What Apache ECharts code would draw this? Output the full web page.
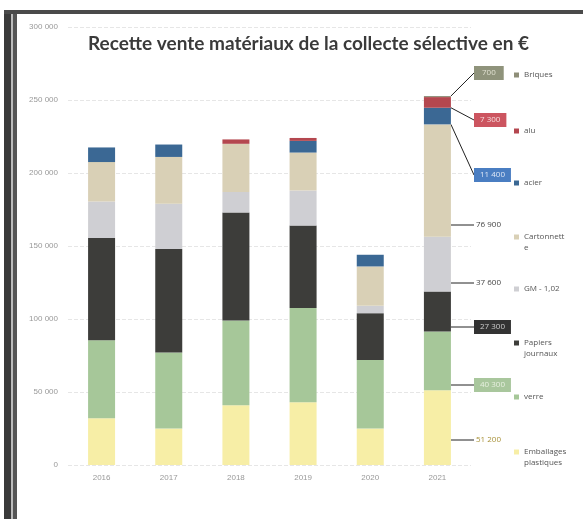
<!DOCTYPE html>
<html><head><meta charset="utf-8">
<script src="https://cdn.jsdelivr.net/npm/echarts@6/dist/echarts.min.js"></script>
<style>html,body{margin:0;padding:0;background:#fff}#c{width:583px;height:519px}</style>
</head><body><div id="c"></div>
<script>
var years = ['2016','2017','2018','2019','2020','2021'];
var emballages = [32000, 25000, 41000, 43000, 25000, 51200];
var verre = [53500, 52000, 58000, 64500, 47000, 40300];
var papiers = [70000, 71000, 74000, 56500, 32000, 27300];
var gm = [25000, 31000, 14000, 24000, 5000, 37600];
var cartonnette = [27000, 32000, 33000, 26000, 27000, 76900];
var acier = [10000, 8500, 0, 8000, 8000, 11400];
var alu = [0, 0, 3000, 2000, 0, 7300];
var briques = [0, 0, 0, 0, 0, 700];
var yTicks = ['0','50 000','100 000','150 000','200 000','250 000','300 000'];

var seriesDefs = [
  {name:'Emballages plastiques', l1:'Emballages', l2:'plastiques', data:emballages, color:'#f7eea6', lbl:{y:440, bg:'transparent', fg:'#a8923a', pad:[2,2]}, ly:452},
  {name:'verre', l1:'verre', data:verre, color:'#a6c799', lbl:{y:385, bg:'#a9c79d', fg:'#e8f0e0', pad:[3,6]}, ly:397},
  {name:'Papiers journaux', l1:'Papiers', l2:'journaux', data:papiers, color:'#3d3d3a', lbl:{y:327, bg:'#333333', fg:'#cccccc', pad:[3,6]}, ly:343},
  {name:'GM - 1,02', l1:'GM - 1,02', data:gm, color:'#cfcfd3', lbl:{y:283, bg:'transparent', fg:'#444', pad:[2,2]}, ly:289},
  {name:'Cartonnette', l1:'Cartonnett', l2:'e', data:cartonnette, color:'#d9d0b6', lbl:{y:225, bg:'transparent', fg:'#444', pad:[2,2]}, ly:237},
  {name:'acier', l1:'acier', data:acier, color:'#3b6894', lbl:{y:175, bg:'#4a7ec2', fg:'#dde6f5', pad:[3,6]}, ly:183},
  {name:'alu', l1:'alu', data:alu, color:'#b4474f', lbl:{y:120, bg:'#cc5560', fg:'#f6dcdc', pad:[3,6]}, ly:131},
  {name:'Briques', l1:'Briques', data:briques, color:'#8e8e78', lbl:{y:73, bg:'#8f937b', fg:'#e0e0d0', pad:[3,8]}, ly:75}
];

function fmt(v){ return String(Math.round(v)).replace(/\B(?=(\d{3})+(?!\d))/g,' '); }

var series = seriesDefs.map(function(s){
  return {
    name: s.name, type:'bar', stack:'t', barWidth:27,
    itemStyle:{color:s.color},
    data: s.data.map(function(v,i){
      if (i === years.length-1) {
        return {value:v, label:{show:true, formatter:fmt(v), fontSize:8, color:s.lbl.fg,
          backgroundColor:s.lbl.bg, padding:s.lbl.pad, fontFamily:'Open Sans'}};
      }
      return v;
    }),
    label:{show:false},
    labelLine:{show:true, lineStyle:{color:'#222', width:1}},
    labelLayout:function(p){
      return {x:474, y:s.lbl.y, align:'left', verticalAlign:'middle'};
    },
    emphasis:{disabled:true}
  };
});

var legends = seriesDefs.map(function(s){
  return {
    data:[s.name], orient:'vertical', left:514, top:s.ly-6, itemWidth:5, itemHeight:5, icon:'rect',
    itemGap:0, padding:0, selectedMode:false,
    textStyle:{fontSize:8, color:'#555', lineHeight:12, fontFamily:'Open Sans'},
    formatter:function(){ return s.l1; }
  };
});

var graphics = [
  {type:'rect', shape:{x:4, y:10, width:7, height:509}, style:{fill:'#3a3a3a'}, silent:true},
  {type:'rect', shape:{x:11, y:10, width:2, height:509}, style:{fill:'#bbbbbb'}, silent:true},
  {type:'rect', shape:{x:13, y:10, width:4, height:509}, style:{fill:'#555555'}, silent:true},
  {type:'rect', shape:{x:4, y:10, width:579, height:4}, style:{fill:'#4a4a4a'}, silent:true}
];
seriesDefs.forEach(function(s){
  if (s.l2) {
    graphics.push({type:'text', left:524, top:s.ly+7, silent:true,
      style:{text:s.l2, fontSize:8, fill:'#555', fontFamily:'Open Sans'}});
  }
});

var chart = echarts.init(document.getElementById('c'));
chart.setOption({
  animation:false,
  backgroundColor:'#fff',
  title:{text:'Recette vente matériaux de la collecte sélective en €', left:83, top:29,
    textStyle:{fontSize:19, fontWeight:'bold', color:'#3a3a3a', fontFamily:'Lato'}},
  legend: legends,
  grid:{left:68, right:112, top:27, bottom:54},
  xAxis:{type:'category', data:years,
    axisLine:{show:false}, axisTick:{show:false},
    axisLabel:{fontSize:8, color:'#999', margin:9}},
  yAxis:{type:'value', min:0, max:300000, interval:50000,
    axisLine:{show:false}, axisTick:{show:false},
    axisLabel:{fontSize:8, color:'#999', margin:10, formatter:function(v){ return yTicks[Math.round(v/50000)]; }},
    splitLine:{show:true, lineStyle:{color:'#e6e6e6', type:'dashed'}}},
  graphic: graphics,
  series: series
});
</script></body></html>
